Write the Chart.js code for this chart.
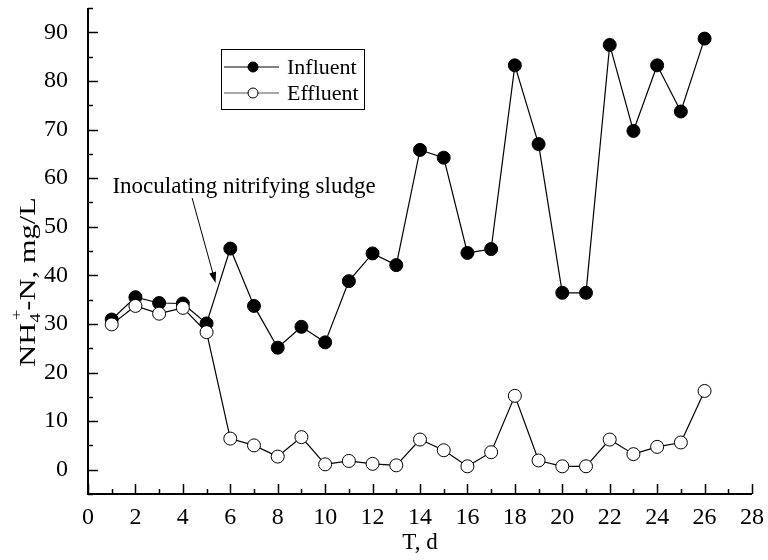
<!DOCTYPE html>
<html>
<head>
<meta charset="utf-8">
<script src="https://cdn.jsdelivr.net/npm/chart.js"></script>
<style>
  html, body { margin: 0; padding: 0; background: #fff; }
  #box { width: 768px; height: 560px; }
</style>
</head>
<body>
<div id="box"><canvas id="grafico"></canvas></div>
<script>
// ---------- dados ----------
const days = [1, 2, 3, 4, 5, 6, 7, 8, 9, 10, 11, 12, 13, 14, 15, 16, 17, 18, 19, 20, 21, 22, 23, 24, 25, 26];
const influent = [30.9, 35.5, 34.3, 34.2, 30.1, 45.5, 33.7, 25.1, 29.4, 26.2, 38.8, 44.5, 42.1, 65.8, 64.2, 44.6, 45.4, 83.2, 67.0, 36.4, 36.4, 87.4, 69.7, 83.2, 73.7, 88.7];
const effluent = [29.9, 33.7, 32.1, 33.3, 28.3, 6.4, 5.0, 2.7, 6.7, 1.1, 1.8, 1.2, 0.9, 6.2, 4.0, 0.7, 3.6, 15.2, 1.9, 0.7, 0.7, 6.2, 3.2, 4.7, 5.6, 16.2];
const seriesNames = ["Influent", "Effluent"];
const xTickLabels = [0, 2, 4, 6, 8, 10, 12, 14, 16, 18, 20, 22, 24, 26, 28];
const yTickLabels = [0, 10, 20, 30, 40, 50, 60, 70, 80, 90];
const noteText = "Inoculating nitrifying sludge";

const FONT = "Liberation Serif";

function pts(ys) {
  return days.map((d, i) => ({ x: d, y: ys[i] }));
}

// ---------- eixos, legenda, anotação ----------
const extras = {
  id: "extras",
  afterDraw(chart) {
    const ctx = chart.ctx;
    const xs = chart.scales.x, ys = chart.scales.y;
    const a = chart.chartArea;
    ctx.save();
    ctx.strokeStyle = "#000";
    ctx.fillStyle = "#000";

    // linhas dos eixos
    ctx.lineWidth = 2;
    ctx.beginPath();
    ctx.moveTo(a.left, a.top);
    ctx.lineTo(a.left, a.bottom);
    ctx.lineTo(a.right, a.bottom);
    ctx.stroke();

    // ticks x (para dentro)
    ctx.lineWidth = 1.5;
    for (let v = xs.min; v <= xs.max; v += 1) {
      const px = Math.round(xs.getPixelForValue(v)) + 0.5;
      const len = xTickLabels.includes(v) ? 10 : 5;
      ctx.beginPath();
      ctx.moveTo(px, a.bottom);
      ctx.lineTo(px, a.bottom - len);
      ctx.stroke();
    }
    // ticks y
    for (let v = ys.min; v <= ys.max; v += 5) {
      const py = Math.round(ys.getPixelForValue(v)) + 0.5;
      const len = yTickLabels.includes(v) ? 10 : 5;
      ctx.beginPath();
      ctx.moveTo(a.left, py);
      ctx.lineTo(a.left + len, py);
      ctx.stroke();
    }

    // título x
    ctx.font = `23px "${FONT}"`;
    ctx.textAlign = "center";
    ctx.textBaseline = "alphabetic";
    ctx.fillText("T, d", (a.left + a.right) / 2, 549);

    // título y com sub/sobrescrito (esticado no sentido do texto)
    ctx.save();
    ctx.translate(35, (a.top + a.bottom) / 2 + 31);
    ctx.rotate(-Math.PI / 2);
    ctx.scale(1.27, 1);
    const big = `24px "${FONT}"`, small = `15px "${FONT}"`;
    ctx.font = big;
    const w1 = ctx.measureText("NH").width;
    ctx.font = small;
    const w4 = ctx.measureText("4").width;
    ctx.font = big;
    const w2 = ctx.measureText("-N, mg/L").width;
    const total = w1 + w4 + 2 + w2;
    let x0 = -total / 2;
    ctx.textAlign = "left";
    ctx.fillText("NH", x0, 0);
    x0 += w1;
    ctx.font = small;
    ctx.fillText("4", x0, 5);
    ctx.fillText("+", x0 + 2, -14);
    x0 += w4 + 2;
    ctx.font = big;
    ctx.fillText("-N, mg/L", x0, 0);
    ctx.restore();

    // legenda
    ctx.lineWidth = 1;
    ctx.strokeStyle = "#000";
    ctx.strokeRect(221.5, 49.5, 143, 60);
    ctx.font = `22px "${FONT}"`;
    ctx.textAlign = "left";
    ctx.textBaseline = "middle";
    chart.data.datasets.forEach((ds, i) => {
      const y = i === 0 ? 67 : 93;
      ctx.strokeStyle = i === 0 ? "#000" : "#555";
      ctx.beginPath();
      ctx.moveTo(224, y);
      ctx.lineTo(279, y);
      ctx.stroke();
      ctx.strokeStyle = "#000";
      ctx.fillStyle = ds.backgroundColor;
      ctx.beginPath();
      ctx.arc(253, y, 5, 0, Math.PI * 2);
      ctx.fill();
      ctx.stroke();
      ctx.fillStyle = "#000";
      ctx.fillText(ds.label, 287, y + 1);
    });

    // anotação + seta
    ctx.font = `23px "${FONT}"`;
    ctx.textBaseline = "alphabetic";
    ctx.fillText(noteText, xs.getPixelForValue(1.03), ys.getPixelForValue(56.9));
    const sx = xs.getPixelForValue(4.39), sy = ys.getPixelForValue(55.9);
    const tx = xs.getPixelForValue(5.38), ty = ys.getPixelForValue(38.4);
    const ang = Math.atan2(ty - sy, tx - sx);
    ctx.lineWidth = 1;
    ctx.beginPath();
    ctx.moveTo(sx, sy);
    ctx.lineTo(tx - 8 * Math.cos(ang), ty - 8 * Math.sin(ang));
    ctx.stroke();
    ctx.beginPath();
    ctx.moveTo(tx, ty);
    ctx.lineTo(tx - 11 * Math.cos(ang) + 3.5 * Math.sin(ang), ty - 11 * Math.sin(ang) - 3.5 * Math.cos(ang));
    ctx.lineTo(tx - 11 * Math.cos(ang) - 3.5 * Math.sin(ang), ty - 11 * Math.sin(ang) + 3.5 * Math.cos(ang));
    ctx.closePath();
    ctx.fill();

    ctx.restore();
  },
};

new Chart(document.getElementById("grafico"), {
  type: "scatter",
  data: {
    datasets: [
      {
        label: seriesNames[0],
        data: pts(influent),
        showLine: true,
        borderColor: "#000",
        borderWidth: 1.2,
        backgroundColor: "#000",
        pointBackgroundColor: "#000",
        pointBorderColor: "#000",
        pointBorderWidth: 1,
        pointRadius: 6.5,
        order: 1,
      },
      {
        label: seriesNames[1],
        data: pts(effluent),
        showLine: true,
        borderColor: "#000",
        borderWidth: 1.2,
        backgroundColor: "#fff",
        pointBackgroundColor: "#fff",
        pointBorderColor: "#000",
        pointBorderWidth: 1,
        pointRadius: 6.5,
        order: 0,
      },
    ],
  },
  options: {
    responsive: true,
    maintainAspectRatio: false,
    animation: false,
    layout: { padding: { top: 8, right: 16, left: 0, bottom: 0 } },
    plugins: { legend: { display: false }, tooltip: { enabled: false } },
    scales: {
      x: {
        type: "linear",
        min: 0,
        max: 28,
        grid: { display: false },
        border: { display: false },
        ticks: {
          stepSize: 1,
          autoSkip: false,
          maxRotation: 0,
          padding: 1,
          color: "#000",
          font: { family: FONT, size: 24 },
          callback: (v) => (xTickLabels.includes(v) ? String(v) : ""),
        },
        afterFit: (s) => {
          s.height = 66;
          s.paddingLeft = 0;
          s.paddingRight = 0;
        },
      },
      y: {
        type: "linear",
        min: -5,
        max: 95,
        grid: { display: false },
        border: { display: false },
        ticks: {
          stepSize: 5,
          autoSkip: false,
          padding: 12,
          color: "#000",
          font: { family: FONT, size: 24 },
          callback: (v) => (yTickLabels.includes(v) ? String(v) : ""),
        },
        afterFit: (s) => {
          s.width = 88;
          s.paddingTop = 0;
          s.paddingBottom = 0;
        },
      },
    },
  },
  plugins: [extras],
});
</script>
</body>
</html>
